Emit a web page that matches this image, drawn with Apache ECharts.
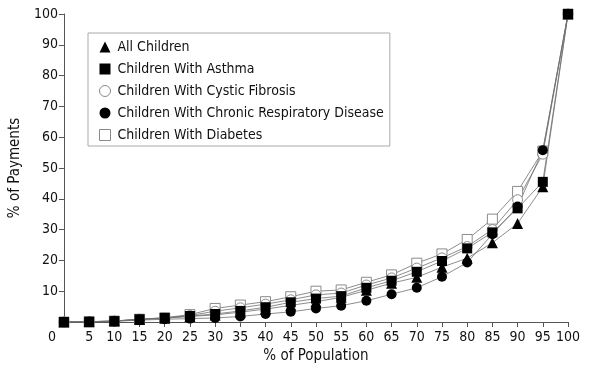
<!DOCTYPE html>
<html>
<head>
<meta charset="utf-8">
<script src="https://cdn.jsdelivr.net/npm/echarts@6/dist/echarts.min.js"></script>
<style>html,body{margin:0;padding:0;background:#fff}#c{width:590px;height:371px}</style>
</head>
<body>
<div id="c"></div>
<script>
const population = [0,5,10,15,20,25,30,35,40,45,50,55,60,65,70,75,80,85,90,95,100];
const allChildren = [0,0.1,0.3,0.8,1.2,1.8,2.3,3.2,4.2,5.4,6.6,8.0,10.3,12.6,14.5,17.8,20.7,25.7,32.0,43.9,100];
const asthma      = [0,0.1,0.3,0.9,1.3,1.95,2.6,3.6,4.8,6.4,7.6,8.4,11.1,13.4,16.3,19.8,23.9,29.1,36.9,45.5,100];
const cystic      = [0,0.1,0.3,0.9,1.3,2.1,3.5,4.6,5.8,7.2,8.8,9.4,12.0,14.3,17.5,20.8,24.5,30.0,39.7,54.5,100];
const chronic     = [0,0.05,0.2,0.6,0.9,1.1,1.3,1.8,2.6,3.3,4.4,5.3,6.9,9.0,11.1,14.7,19.3,28.5,37.5,55.8,100];
const diabetes    = [0,0.1,0.3,0.9,1.4,2.4,4.4,5.5,6.6,8.2,10.0,10.4,12.9,15.3,19.1,22.1,26.8,33.4,42.4,55.5,100];
const yTicks = [10,20,30,40,50,60,70,80,90,100];

const FONT = "'Liberation Sans Narrow','DejaVu Sans Condensed','Roboto Condensed',sans-serif";
const pair = arr => arr.map((v,i)=>[population[i], v]);
const lineStyle = {color:'#707070', width:0.8};
const black = {color:'#000'};
const hollow = {color:'#fff', borderColor:'#8a8a8a', borderWidth:1};

const chart = echarts.init(document.getElementById('c'), null, {renderer:'canvas'});
chart.setOption({
  animation:false,
  textStyle:{fontFamily:FONT},
  grid:{left:60, right:22, top:14, bottom:49},
  legend:{
    orient:'vertical', left:88, top:33,
    padding:[7,6,4,11], itemGap:8, itemWidth:11, itemHeight:11,
    backgroundColor:'#fff', borderColor:'#aaa', borderWidth:1,
    textStyle:{fontFamily:FONT, fontSize:14, color:'#111', padding:[0,0,0,2]},
    data:[
      {name:'All Children', icon:'triangle', itemStyle:black},
      {name:'Children With Asthma', icon:'rect', itemStyle:black},
      {name:'Children With Cystic Fibrosis', icon:'circle', itemStyle:hollow},
      {name:'Children With Chronic Respiratory Disease', icon:'circle', itemStyle:black},
      {name:'Children With Diabetes', icon:'rect', itemStyle:hollow}
    ]
  },
  xAxis:{
    type:'value', min:0, max:100, interval:5,
    name:'% of Population', nameLocation:'middle', nameGap:27,
    nameTextStyle:{fontFamily:FONT, fontSize:15, color:'#111'},
    axisLine:{lineStyle:{color:'#555', width:1}},
    axisTick:{length:5, lineStyle:{color:'#555'}},
    splitLine:{show:false},
    axisLabel:{
      fontFamily:FONT, fontSize:14, color:'#111', margin:8,
      formatter:v => v===0 ? '{z|0}' : String(v),
      rich:{z:{fontFamily:FONT, fontSize:14, color:'#111', padding:[0,24,0,0]}}
    }
  },
  yAxis:{
    type:'value', min:0, max:100, interval:10,
    name:'% of Payments', nameLocation:'middle', nameGap:40,
    nameTextStyle:{fontFamily:FONT, fontSize:15, color:'#111'},
    axisLine:{show:true, lineStyle:{color:'#555', width:1}},
    axisTick:{show:true, length:5, lineStyle:{color:'#555'}},
    splitLine:{show:false},
    axisLabel:{fontFamily:FONT, fontSize:14, color:'#111', margin:6, showMinLabel:false,
      formatter:v => yTicks.includes(v) ? String(v) : ''}
  },
  series:[
    {name:'Children With Diabetes', type:'line', data:pair(diabetes), symbol:'rect', symbolSize:10, lineStyle, itemStyle:hollow},
    {name:'Children With Cystic Fibrosis', type:'line', data:pair(cystic), symbol:'circle', symbolSize:10, lineStyle, itemStyle:hollow},
    {name:'All Children', type:'line', data:pair(allChildren), symbol:'triangle', symbolSize:11, lineStyle, itemStyle:black},
    {name:'Children With Chronic Respiratory Disease', type:'line', data:pair(chronic), symbol:'circle', symbolSize:10, lineStyle, itemStyle:black},
    {name:'Children With Asthma', type:'line', data:pair(asthma), symbol:'rect', symbolSize:10, lineStyle, itemStyle:black}
  ]
});
</script>
</body>
</html>
